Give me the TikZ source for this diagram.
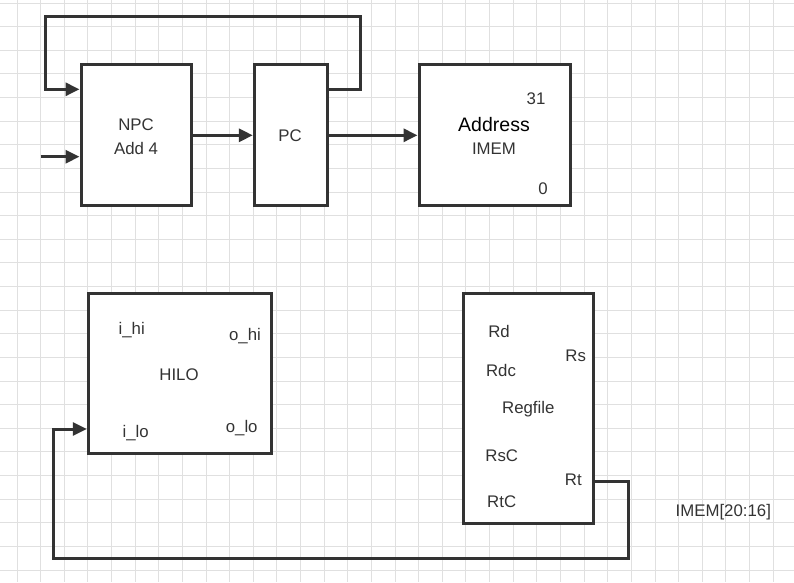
\documentclass[tikz,border=0pt]{standalone}
\usepackage{fontspec}
\setmainfont{Liberation Sans}
\usetikzlibrary{arrows.meta}
\definecolor{ink}{HTML}{333333}
\definecolor{gridc}{HTML}{E0E0E0}
\begin{document}
\begin{tikzpicture}[x=1pt,y=-1pt,
  blockbox/.style={draw=ink,line width=3pt,fill=white,rectangle,inner sep=0pt},
  wire/.style={draw=ink,line width=3pt},
  arr/.style={wire,-{Triangle[length=14pt,width=13pt]}},
  lbl/.style={text=ink,font=\fontsize{16.8}{19}\selectfont,inner sep=0pt}]
  % canvas and grid
  \useasboundingbox (0,0) rectangle (794,582);
  \fill[white] (0,0) rectangle (794,582);
  \foreach \i in {0,...,33} {
    \draw[gridc,line width=1pt] (17+\i*23.63,0) -- (17+\i*23.63,582);
  }
  \foreach \j in {0,...,24} {
    \draw[gridc,line width=1pt] (0,3+\j*23.63) -- (794,3+\j*23.63);
  }
  % blocks
  \node[blockbox,minimum width=110.7pt,minimum height=141pt] (npc) at (136.35,134.5) {};
  \node[blockbox,minimum width=73pt,minimum height=141pt] (pc) at (290.8,134.5) {};
  \node[blockbox,minimum width=151.7pt,minimum height=141pt] (imem) at (494.85,134.8) {};
  \node[blockbox,minimum width=183.4pt,minimum height=160pt] (hilo) at (180,373.3) {};
  \node[blockbox,minimum width=130pt,minimum height=230pt] (rf) at (528.3,408.3) {};
  % block texts
  \node[lbl] (npct) at (136,125) {NPC};
  \node[lbl] (addt) at (136,148) {Add 4};
  \node[lbl] (pct) at (290,136) {PC};
  \node[text=black,font=\fontsize{19.5}{22}\selectfont,inner sep=0pt] (addr) at (494,125) {Address};
  \node[lbl] (imemt) at (494,149) {IMEM};
  \node[lbl] (b31) at (536,99) {31};
  \node[lbl] (b0) at (543,189) {0};
  \node[lbl] (ihi) at (131.7,330) {i\_hi};
  \node[lbl] (ohi) at (245,336) {o\_hi};
  \node[lbl] (hilot) at (179,374.3) {HILO};
  \node[lbl] (ilo) at (135.7,432.7) {i\_lo};
  \node[lbl] (olo) at (241.7,427.7) {o\_lo};
  \node[lbl] (rd) at (499,331.7) {Rd};
  \node[lbl] (rs) at (575.7,356) {Rs};
  \node[lbl] (rdc) at (501,370) {Rdc};
  \node[lbl] (regt) at (528.3,409) {Regfile};
  \node[lbl] (rsc) at (501.7,456) {RsC};
  \node[lbl] (rt) at (573.3,480) {Rt};
  \node[lbl] (rtc) at (501.7,501.7) {RtC};
  \node[lbl] (imemf) at (723.3,512.3) {IMEM[20:16]};
  % wiring corners
  \coordinate (loopr) at (360.7,16.7);
  \coordinate (loopl) at (45,89.3);
  \coordinate (inl) at (40.7,156.7);
  \coordinate (rtr) at (628.3,558);
  \coordinate (rtl) at (53.3,429);
  % connectors
  \draw[arr] (pc.east |- 0,89.3) -| (loopr) -| (loopl) -- (npc.west |- loopl);
  \draw[arr] (inl) -- (npc.west |- inl);
  \draw[arr] (npc.east |- 0,135.3) -- (pc.west |- 0,135.3);
  \draw[arr] (pc.east |- 0,135.3) -- (imem.west |- 0,135.3);
  \draw[arr] (rf.east |- 0,481) -| (rtr) -| (rtl) -- (hilo.west |- rtl);
\end{tikzpicture}
\end{document}
